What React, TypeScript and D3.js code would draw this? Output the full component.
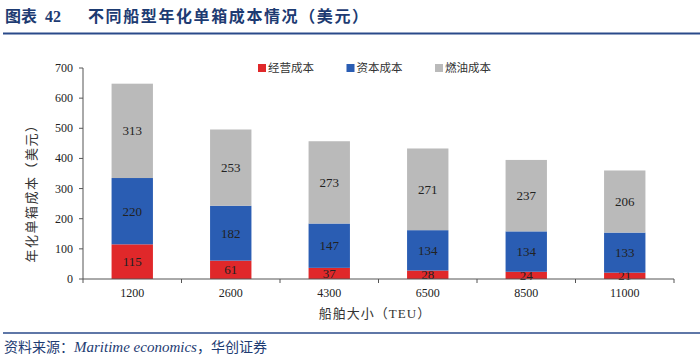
import React from "react";
import * as d3 from "d3";

const categories = ["1200", "2600", "4300", "6500", "8500", "11000"];
const opCost = [115, 61, 37, 28, 24, 21];
const capCost = [220, 182, 147, 134, 134, 133];
const fuelCost = [313, 253, 273, 271, 237, 206];
const seriesNames = ["经营成本", "资本成本", "燃油成本"];
const yTicks = [0, 100, 200, 300, 400, 500, 600, 700];

const colors = ["#e0282a", "#2a5db3", "#bababa"];
const W = 700, H = 357;
const left = 83, right = 674, top = 68, bottom = 279;

export default function App() {
  const x = d3.scaleBand<string>().domain(categories).range([left, right]).paddingInner(0.58).paddingOuter(0.29);
  const xb = d3.scaleBand<string>().domain(categories).range([left, right]);
  const y = d3.scaleLinear().domain([0, 700]).range([bottom, top]);
  const rows = categories.map((c, i) => ({ c, s0: opCost[i], s1: capCost[i], s2: fuelCost[i] }));
  const stack = d3.stack<any>().keys(["s0", "s1", "s2"])(rows);
  const serif = "'Liberation Serif', 'Times New Roman', serif";
  const cjk = "'Noto Sans CJK SC', sans-serif";
  const blue = "#1d3b72";
  return (
    <svg width={W} height={H} style={{ position: "absolute", left: 0, top: 0, background: "#fff" }}>
      <text x={5} y={22} fontFamily={cjk} fontWeight="bold" fontSize={16} fill={blue}>图表<tspan dx={8} fontFamily={serif}>42</tspan></text>
      <text x={88} y={22} fontFamily={cjk} fontWeight="bold" fontSize={16} letterSpacing={1.6} fill={blue}>不同船型年化单箱成本情况（美元）</text>
      <line x1={3} x2={W} y1={33.5} y2={33.5} stroke="#2a4a8a" strokeWidth={2} />
      {stack.map((layer, li) =>
        layer.map((d, i) => (
          <g key={`${li}-${i}`}>
            <rect x={x(categories[i])} y={y(d[1])} width={x.bandwidth()} height={y(d[0]) - y(d[1])} fill={colors[li]} />
            <text x={(x(categories[i]) as number) + x.bandwidth() / 2} y={(y(d[0]) + y(d[1])) / 2 + 4.5} textAnchor="middle" fontFamily={serif} fontSize={13} fill="#222">{d[1] - d[0]}</text>
          </g>
        ))
      )}
      <line x1={left} x2={left} y1={top} y2={bottom} stroke="#555" />
      {yTicks.map(t => (
        <g key={t}>
          <line x1={left - 4} x2={left} y1={y(t)} y2={y(t)} stroke="#555" />
          <text x={left - 10} y={y(t) + 4} textAnchor="end" fontFamily={serif} fontSize={12} fill="#222">{t}</text>
        </g>
      ))}
      <line x1={left} x2={right} y1={bottom} y2={bottom} stroke="#555" />
      {categories.map((c, i) => (
        <g key={c}>
          <line x1={xb(c)} x2={xb(c)} y1={bottom} y2={bottom + 4} stroke="#555" />
          <text x={(xb(c) as number) + xb.bandwidth() / 2} y={bottom + 18} textAnchor="middle" fontFamily={serif} fontSize={12} fill="#222">{c}</text>
        </g>
      ))}
      <line x1={right} x2={right} y1={bottom} y2={bottom + 4} stroke="#555" />
      <text x={375} y={318} textAnchor="middle" fontFamily={cjk} fontSize={13} letterSpacing={1} fill="#333">船舶大小（<tspan fontFamily={serif}>TEU</tspan>）</text>
      <text transform={`translate(36,190) rotate(-90)`} textAnchor="middle" fontFamily={cjk} fontSize={13} letterSpacing={1.5} fill="#333">年化单箱成本（美元）</text>
      {seriesNames.map((n, i) => (
        <g key={n}>
          <rect x={258 + i * 88.5} y={64} width={8} height={8} fill={colors[i]} />
          <text x={268 + i * 88.5} y={72} fontFamily={cjk} fontSize={11.5} fill="#333">{n}</text>
        </g>
      ))}
      <line x1={3} x2={W} y1={333} y2={333} stroke="#2a4a8a" strokeWidth={1.5} />
      <text x={4} y={352} fontFamily={serif} fontStyle="italic" fontSize={15} fill={blue}><tspan fontFamily={cjk} fontStyle="normal" fontSize={14}>资料来源：</tspan>Maritime economics<tspan fontFamily={cjk} fontStyle="normal" fontSize={14}>，华创证券</tspan></text>
    </svg>
  );
}
